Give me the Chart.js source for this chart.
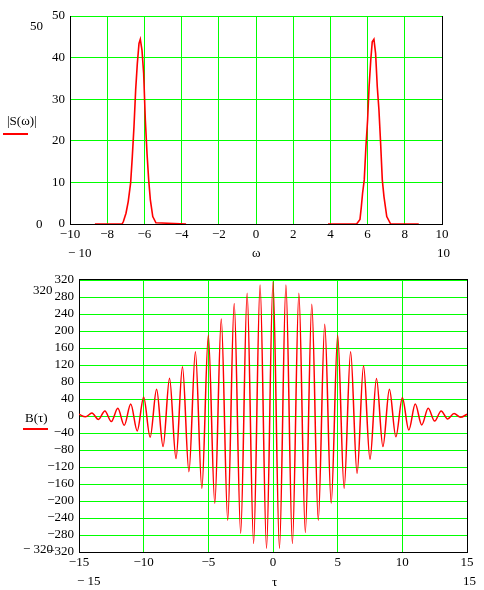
<!DOCTYPE html>
<html>
<head>
<meta charset="utf-8">
<script src="https://cdn.jsdelivr.net/npm/chart.js@4/dist/chart.umd.min.js"></script>
<style>
  body { margin: 0; background: #fff; width: 484px; height: 590px; position: relative; overflow: hidden; font-family: "Liberation Serif", serif; }
  canvas { position: absolute; left: 0; }
  .t { position: absolute; font-size: 13px; line-height: 1; color: #000; white-space: nowrap; }
  .leg { position: absolute; height: 2px; background: #ff0000; }
</style>
</head>
<body>
<canvas id="spec" width="484" height="262" style="top:0"></canvas>
<canvas id="corr" width="484" height="328" style="top:262px"></canvas>

<div class="t" style="left:30px;top:19px">50</div>
<div class="t" style="left:36px;top:217px">0</div>
<div class="t" style="left:7px;top:114px">|S(ω)|</div>
<div class="leg" style="left:3px;top:133px;width:25px"></div>
<div class="t" style="left:68px;top:246px">− 10</div>
<div class="t" style="left:252px;top:246px">ω</div>
<div class="t" style="left:437px;top:246px">10</div>

<div class="t" style="left:33px;top:283px">320</div>
<div class="t" style="left:23px;top:542px">− 320</div>
<div class="t" style="left:25px;top:411px">B(τ)</div>
<div class="leg" style="left:23px;top:428px;width:25px"></div>
<div class="t" style="left:77px;top:574px">− 15</div>
<div class="t" style="left:272px;top:575px">τ</div>
<div class="t" style="left:463px;top:574px">15</div>

<script>
// |S(ω)| — два пика около ±2π, между ними линии нет
const omega = [-8.66, -7.2, -7.13, -6.99, -6.87, -6.74, -6.65, -6.56, -6.47, -6.38, -6.29, -6.22,
  -6.13, -6.04, -5.95, -5.86, -5.77, -5.68, -5.55, -5.38, -3.76,
  0,
  3.87, 5.41, 5.59, 5.66, 5.73, 5.82, 5.91, 6.0, 6.08, 6.17, 6.25, 6.34, 6.43, 6.52,
  6.61, 6.70, 6.79, 6.88, 7.03, 7.24, 8.75];
const sMag = [0, 0, 0.6, 2.6, 5.4, 9.9, 16.2, 23.4, 32.2, 38.6, 43.4, 44.4,
  41.8, 36.2, 25, 17, 10.6, 5.8, 1.8, 0.3, 0,
  null,
  0, 0, 1.1, 4, 7.4, 10.6, 18.6, 25, 33, 39.4, 43.8, 44.4, 41, 33,
  27.4, 19.4, 10.6, 6.6, 1.8, 0, 0];
const omegaTicks = { min: -10, max: 10, step: 2 };
const sTicks = { min: 0, max: 50, step: 10 };

// B(τ) — экстремумы: максимумы на целых τ, минимумы на полуцелых
const tau = [-15, -14.5, -14, -13.5, -13, -12.5, -12, -11.5, -11, -10.5, -10, -9.5, -9, -8.5, -8,
  -7.5, -7, -6.5, -6, -5.5, -5, -4.5, -4, -3.5, -3, -2.5, -2, -1.5, -1, -0.5, 0,
  0.5, 1, 1.5, 2, 2.5, 3, 3.5, 4, 4.5, 5, 5.5, 6, 6.5, 7, 7.5, 8, 8.5, 9, 9.5, 10,
  10.5, 11, 11.5, 12, 12.5, 13, 13.5, 14, 14.5, 15];
const bVals = [4, -2, 7, -8, 12, -13, 18, -22, 28, -35, 44, -50, 63, -72, 89,
  -100, 116, -131, 151, -170, 190, -205, 228, -245, 265, -276, 289, -300, 308, -311, 316,
  -311, 308, -300, 289, -274, 263, -245, 216, -205, 190, -170, 151, -135, 118, -102, 88, -72, 63, -49, 43,
  -33, 28, -21, 18, -12, 12, -7, 6, -3, 4];
const tauTicks = { min: -15, max: 15, step: 5 };
const bTicks = { min: -320, max: 320, step: 40 };

const GRID = "#00ff00";
const FONT = { family: "'Liberation Serif', serif", size: 13 };
const minus = (v) => String(v).replace("-", "\u2212");

// чёрная рамка по краям, которых нет у осей
const framePlugin = {
  id: "frame",
  beforeDatasetsDraw(chart, args, opts) {
    const { ctx, chartArea: a } = chart;
    ctx.save();
    ctx.strokeStyle = "#000";
    ctx.lineWidth = 1;
    ctx.beginPath();
    ctx.moveTo(Math.round(a.right) + 0.5, a.top);
    ctx.lineTo(Math.round(a.right) + 0.5, a.bottom);
    if (opts.top) {
      ctx.moveTo(a.left, Math.round(a.top) - 0.5);
      ctx.lineTo(a.right + 1, Math.round(a.top) - 0.5);
    }
    ctx.stroke();
    ctx.restore();
  },
};

function makeChart(canvas, xs, ys, xt, yt, cfg) {
  const points = xs.map((x, i) => ({ x, y: ys[i] }));
  return new Chart(canvas, {
    type: "line",
    data: {
      datasets: [{
        data: points,
        borderColor: "#ff0000",
        borderWidth: cfg.lineWidth,
        pointRadius: 0,
        fill: false,
        tension: cfg.smooth ? 0.4 : 0,
        cubicInterpolationMode: cfg.smooth ? "monotone" : "default",
        spanGaps: false,
      }],
    },
    options: {
      responsive: false,
      animation: false,
      events: [],
      layout: { padding: { left: 0, top: cfg.top, right: cfg.right, bottom: 0 } },
      plugins: { legend: { display: false }, tooltip: { enabled: false }, frame: { top: cfg.frameTop } },
      scales: {
        x: {
          type: "linear",
          min: xt.min, max: xt.max,
          afterFit: (s) => { s.height = cfg.xHeight; },
          grid: { color: GRID, lineWidth: 1, drawTicks: false },
          border: { display: true, color: "#000", width: 1 },
          ticks: { stepSize: xt.step, autoSkip: false, color: "#000", font: FONT, padding: 3, maxRotation: 0, callback: minus },
        },
        y: {
          min: yt.min, max: yt.max,
          afterFit: (s) => { s.width = cfg.yWidth; },
          grid: { color: GRID, lineWidth: 1, drawTicks: false },
          border: { display: true, color: "#000", width: 1 },
          ticks: { stepSize: yt.step, autoSkip: false, color: "#000", font: FONT, padding: 5, callback: minus },
        },
      },
    },
    plugins: [framePlugin],
  });
}

makeChart(document.getElementById("spec"), omega, sMag, omegaTicks, sTicks,
  { top: 16, right: 42, xHeight: 38, yWidth: 70, lineWidth: 1.6, smooth: false, frameTop: false });
makeChart(document.getElementById("corr"), tau, bVals, tauTicks, bTicks,
  { top: 18, right: 17, xHeight: 38, yWidth: 79, lineWidth: 1.5, smooth: true, frameTop: true });
</script>
</body>
</html>
